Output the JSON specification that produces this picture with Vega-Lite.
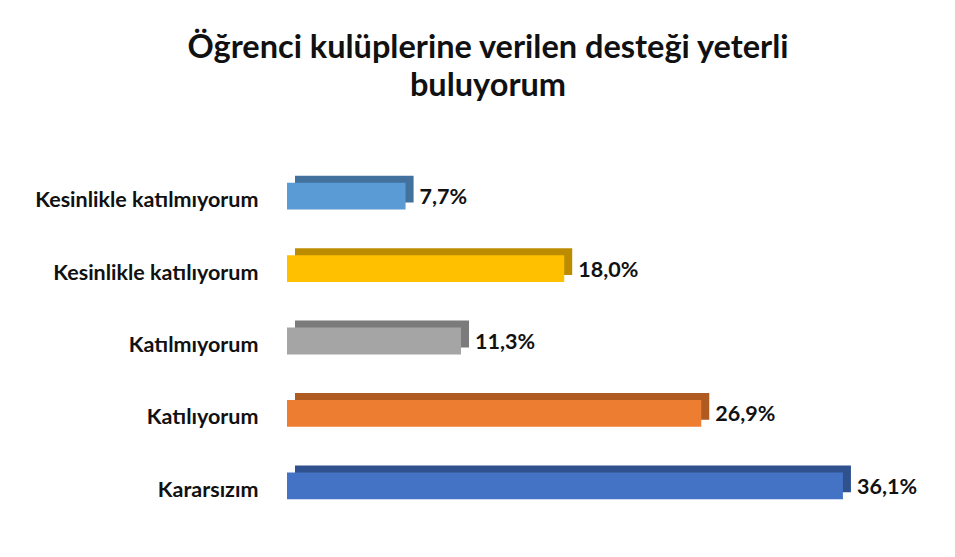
{
  "$schema": "https://vega.github.io/schema/vega-lite/v6.json",
  "width": 616,
  "height": 362,
  "autosize": {"type": "none"},
  "padding": {"left": 287, "top": 160, "right": 52, "bottom": 35},
  "background": "white",
  "title": {
    "text": ["Öğrenci kulüplerine verilen desteği yeterli", "buluyorum"],
    "font": "Lato",
    "fontSize": 32.5,
    "fontWeight": "bold",
    "color": "#111111",
    "anchor": "middle",
    "dx": -107,
    "offset": 58,
    "lineHeight": 38
  },
  "config": {
    "view": {"stroke": null},
    "locale": {"number": {"decimal": ",", "thousands": ".", "grouping": [3], "currency": ["", "₺"]}}
  },
  "data": {
    "values": [
      {"cevap": "Kesinlikle katılmıyorum", "oran": 0.077},
      {"cevap": "Kesinlikle katılıyorum", "oran": 0.18},
      {"cevap": "Katılmıyorum", "oran": 0.113},
      {"cevap": "Katılıyorum", "oran": 0.269},
      {"cevap": "Kararsızım", "oran": 0.361}
    ]
  },
  "encoding": {
    "y": {
      "field": "cevap",
      "type": "nominal",
      "sort": null,
      "scale": {"paddingInner": 0.63, "paddingOuter": 0.315},
      "axis": {
        "title": null,
        "domain": false,
        "ticks": false,
        "labelFont": "Lato",
        "labelFontSize": 21.5,
        "labelFontWeight": "bold",
        "labelColor": "#111111",
        "labelPadding": 29,
        "labelOffset": 5,
        "labelLimit": 0
      }
    },
    "x": {
      "field": "oran",
      "type": "quantitative",
      "scale": {"domain": [0, 0.4]},
      "axis": null
    }
  },
  "layer": [
    {
      "mark": {"type": "bar", "xOffset": 8, "yOffset": -7},
      "encoding": {
        "color": {
          "field": "cevap",
          "type": "nominal",
          "scale": {
            "domain": ["Kesinlikle katılmıyorum", "Kesinlikle katılıyorum", "Katılmıyorum", "Katılıyorum", "Kararsızım"],
            "range": ["#41719C", "#BC8C00", "#7B7B7B", "#AE5A21", "#2F528F"]
          },
          "legend": null
        }
      }
    },
    {
      "mark": {"type": "bar"},
      "encoding": {
        "color": {
          "field": "cevap",
          "type": "nominal",
          "scale": {
            "domain": ["Kesinlikle katılmıyorum", "Kesinlikle katılıyorum", "Katılmıyorum", "Katılıyorum", "Kararsızım"],
            "range": ["#5B9BD5", "#FFC000", "#A5A5A5", "#ED7D31", "#4472C4"]
          },
          "legend": null
        }
      }
    },
    {
      "mark": {"type": "text", "align": "left", "dx": 14, "dy": 2, "font": "Lato", "fontSize": 21.5, "fontWeight": "bold", "color": "#111111"},
      "encoding": {
        "text": {"field": "oran", "type": "quantitative", "format": ".1%"}
      }
    }
  ],
  "resolve": {"scale": {"color": "independent"}}
}
